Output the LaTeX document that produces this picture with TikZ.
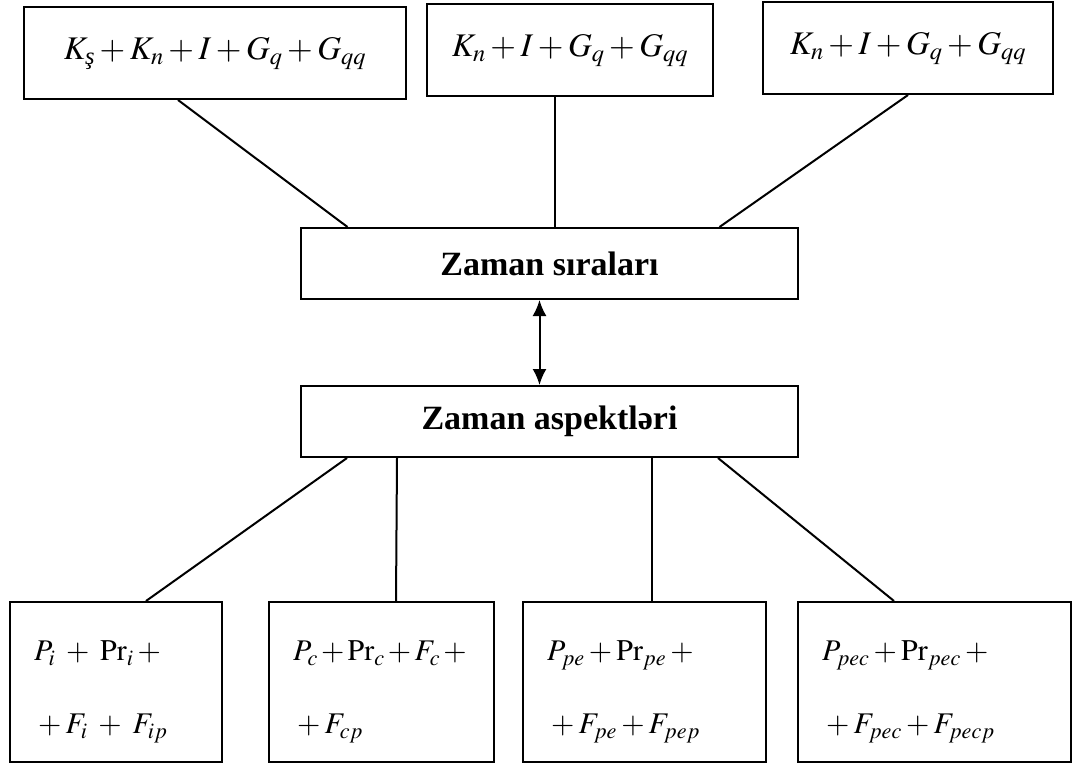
\documentclass[tikz,border=0pt]{standalone}
\usepackage{amsmath}
\usepackage{mathptmx}
\usepackage{fontspec}
\setmainfont{Liberation Serif}
\usetikzlibrary{arrows.meta}

\begin{document}
\begin{tikzpicture}[x=1pt,y=-1pt,every node/.style={inner sep=0pt},
  topbox/.style={draw,line width=2pt,minimum height=92pt,font=\fontsize{33}{38}\selectfont},
  midbox/.style={draw,line width=2pt,minimum width=497pt,minimum height=71pt,font=\fontsize{34}{38}\selectfont\bfseries},
  lowbox/.style={draw,line width=2pt,minimum height=160pt,inner xsep=24pt,text width=#1,align=left,font=\fontsize{30}{73}\selectfont},
  link/.style={line width=2pt}]
\useasboundingbox (0,0) rectangle (1076,770);
% top row
\node[topbox,minimum width=382pt] (sumA) at (215,53) {$K_{\textit{ş}}+K_n+I+G_q+G_{qq}$};
\node[topbox,minimum width=286pt] (sumB) at (570,50) {$K_n+I+G_q+G_{qq}$};
\node[topbox,minimum width=290pt] (sumC) at (908,48) {$K_n+I+G_q+G_{qq}$};
% middle
\node[midbox] (rows) at (549.5,263.5) {Zaman sıraları};
\node[midbox] (aspects) at (549.5,421.5) {Zaman aspektləri};
% bottom row
\node[lowbox=164pt] (partI) at (116,682) {\rule{0pt}{40pt}$P_i\;+\;\mathrm{Pr}_i+{}$\\${}+F_i\;+\;F_{ip}$};
\node[lowbox=177pt] (partC) at (381.5,682) {\rule{0pt}{40pt}$P_c+\mathrm{Pr}_c+F_c+{}$\\${}+F_{cp}$};
\node[lowbox=195pt] (partPE) at (644.5,682) {\rule{0pt}{40pt}$P_{pe}+\mathrm{Pr}_{pe}+{}$\\${}+F_{pe}+F_{pep}$};
\node[lowbox=225pt] (partPEC) at (934.5,682) {\rule{0pt}{40pt}$P_{pec}+\mathrm{Pr}_{pec}+{}$\\${}+F_{pec}+F_{pecp}$};
% connectors
\draw[link] ([xshift=-37pt]sumA.south) -- ([xshift=-202pt]rows.north);
\draw[link] ([xshift=-15pt]sumB.south) -- ([xshift=5.5pt]rows.north);
\draw[link] (sumC.south) -- ([xshift=170pt]rows.north);
\draw[link,{Latex[length=16pt,width=14pt]}-{Latex[length=16pt,width=14pt]}] ([xshift=-10pt]rows.south) -- ([xshift=-10pt]aspects.north);
\draw[link] ([xshift=-202.5pt]aspects.south) -- ([xshift=30pt]partI.north);
\draw[link] ([xshift=-152.5pt]aspects.south) -- ([xshift=14.5pt]partC.north);
\draw[link] ([xshift=102.5pt]aspects.south) -- ([xshift=7.5pt]partPE.north);
\draw[link] ([xshift=168.5pt]aspects.south) -- ([xshift=-40.5pt]partPEC.north);
\end{tikzpicture}
\end{document}
